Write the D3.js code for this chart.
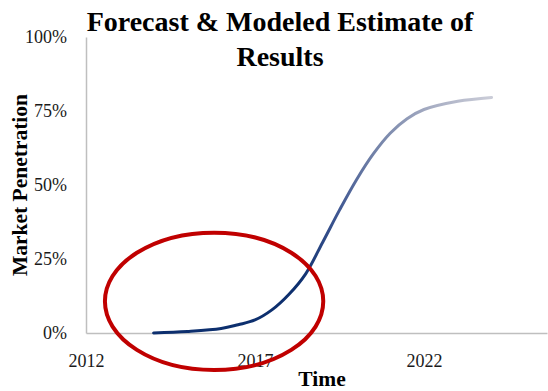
<!DOCTYPE html>
<html>
<head>
<meta charset="utf-8">
<script src="https://cdn.jsdelivr.net/npm/d3@7"></script>
<style>
  html, body { margin: 0; padding: 0; background: #fff; }
  svg { display: block; }
</style>
</head>
<body>
<svg id="chart" width="548" height="391"></svg>
<script>
// Adoption curve: market penetration by year
const years = [2014, 2015, 2016, 2016.5, 2017, 2017.5, 2018, 2018.5, 2019, 2019.5, 2020, 2020.5, 2021, 2021.5, 2022, 2023, 2024];
const penetration = [0.0, 0.005, 0.015, 0.028, 0.044, 0.078, 0.13, 0.20, 0.306, 0.415, 0.517, 0.605, 0.675, 0.724, 0.755, 0.783, 0.796];

const xTicks = [2012, 2017, 2022];
const yTicks = [0, 0.25, 0.5, 0.75, 1.0];

// Highlighted early-adoption region (year span, penetration span)
const highlightYears = [2012.56, 2019.02];
const highlightValues = [-0.125, 0.339];

const titleLines = ["Forecast & Modeled Estimate of", "Results"];

const svg = d3.select("#chart");
const serif = "'Palatino Linotype', 'Book Antiqua', Palatino, 'Liberation Serif', serif";

const x = d3.scaleLinear().domain([2012, 2025.64]).range([86, 547]);
const y = d3.scaleLinear().domain([0, 1]).range([333, 37]);

// Axes
const xAxis = svg.append("g")
  .attr("transform", `translate(0,${y(0)})`)
  .call(d3.axisBottom(x).tickValues(xTicks).tickFormat(d3.format("d"))
    .tickSizeInner(0).tickSizeOuter(0).tickPadding(21));
const yAxis = svg.append("g")
  .attr("transform", `translate(${x(2012)},0)`)
  .call(d3.axisLeft(y).tickValues(yTicks).tickFormat(d3.format(".0%"))
    .tickSizeInner(0).tickSizeOuter(0).tickPadding(19));

[xAxis, yAxis].forEach(g => {
  g.select(".domain").attr("stroke", "#bfbfbf").attr("stroke-width", 1.5);
  g.selectAll("text")
    .style("font-size", "18px")
    .style("font-family", serif)
    .attr("fill", "#1a1a1a");
});

// Line gradient: deep navy fading to pale grey-lavender
const defs = svg.append("defs");
const grad = defs.append("linearGradient")
  .attr("id", "curveGrad")
  .attr("gradientUnits", "userSpaceOnUse")
  .attr("x1", x(2018.3)).attr("y1", 0)
  .attr("x2", x(2024)).attr("y2", 0);
grad.append("stop").attr("offset", 0).attr("stop-color", "#0d2f6e");
grad.append("stop").attr("offset", 0.2).attr("stop-color", "#3f5792");
grad.append("stop").attr("offset", 0.38).attr("stop-color", "#7080a7");
grad.append("stop").attr("offset", 0.7).attr("stop-color", "#a9afc4");
grad.append("stop").attr("offset", 1).attr("stop-color", "#cbcdd8");

const data = years.map((yr, i) => ({ year: yr, value: penetration[i] }));
const line = d3.line()
  .x(d => x(d.year))
  .y(d => y(d.value))
  .curve(d3.curveCatmullRom.alpha(0.5));

svg.append("path")
  .datum(data)
  .attr("d", line)
  .attr("fill", "none")
  .attr("stroke", "url(#curveGrad)")
  .attr("stroke-width", 3)
  .attr("stroke-linecap", "round");

// Red highlight ellipse
const ex0 = x(highlightYears[0]), ex1 = x(highlightYears[1]);
const ey0 = y(highlightValues[1]), ey1 = y(highlightValues[0]);
svg.append("ellipse")
  .attr("cx", (ex0 + ex1) / 2)
  .attr("cy", (ey0 + ey1) / 2)
  .attr("rx", (ex1 - ex0) / 2)
  .attr("ry", (ey1 - ey0) / 2)
  .attr("fill", "none")
  .attr("stroke", "#c00000")
  .attr("stroke-width", 4);

// Title
svg.append("text")
  .attr("x", 280)
  .attr("font-family", serif)
  .attr("font-weight", "bold")
  .attr("font-size", 28)
  .attr("text-anchor", "middle")
  .attr("fill", "#000")
  .selectAll("tspan")
  .data(titleLines)
  .join("tspan")
  .attr("x", 280)
  .attr("y", (d, i) => 31 + i * 35)
  .text(d => d);

// Axis titles
svg.append("text")
  .attr("transform", "translate(27,185) rotate(-90)")
  .attr("text-anchor", "middle")
  .attr("font-family", serif)
  .attr("font-weight", "bold")
  .attr("font-size", 21.5)
  .text("Market Penetration");

svg.append("text")
  .attr("x", 322)
  .attr("y", 386)
  .attr("text-anchor", "middle")
  .attr("font-family", serif)
  .attr("font-weight", "bold")
  .attr("font-size", 21.5)
  .text("Time");
</script>
</body>
</html>
